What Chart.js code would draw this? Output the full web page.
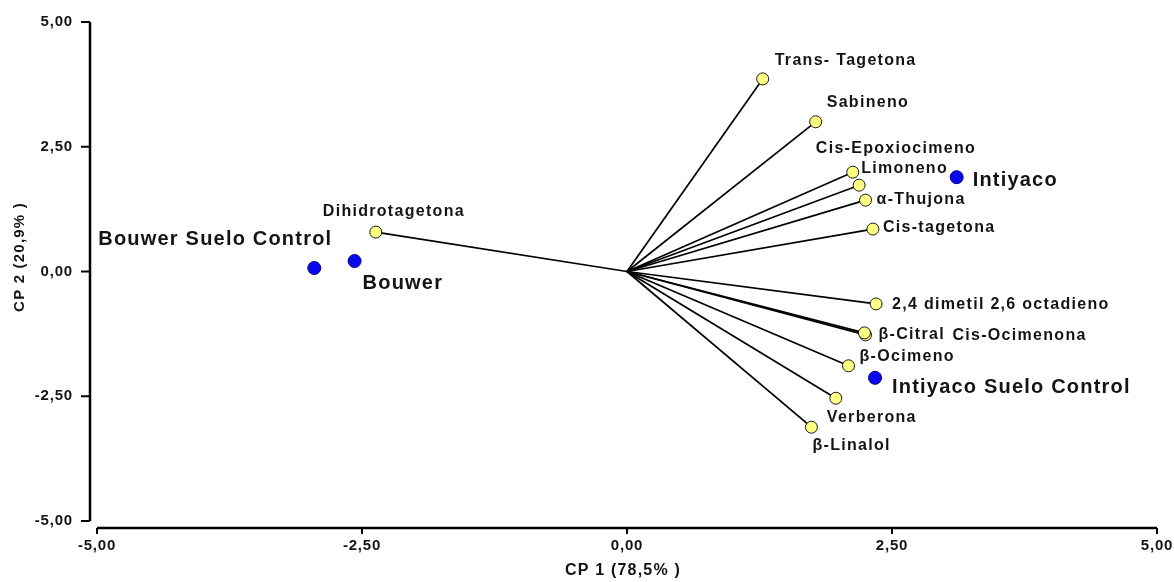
<!DOCTYPE html>
<html>
<head>
<meta charset="utf-8">
<script src="https://cdn.jsdelivr.net/npm/chart.js@4.4.1/dist/chart.umd.min.js"></script>
<style>
  html, body { margin: 0; padding: 0; background: #ffffff; }
  #wrap { width: 1174px; height: 582px; position: relative; }
</style>
</head>
<body>
<div id="wrap"><canvas id="c" width="1174" height="582"></canvas></div>
<script>
// ---- Data ----
const variableNames = ["Trans- Tagetona", "Sabineno", "Cis-Epoxiocimeno", "Limoneno", "α-Thujona", "Cis-tagetona",
  "Dihidrotagetona", "2,4 dimetil 2,6 octadieno", "β-Citral", "Cis-Ocimenona", "β-Ocimeno", "Verberona", "β-Linalol"];
const variableCP1 = [1.28, 1.78, 2.13, 2.19, 2.25, 2.32, -2.37, 2.35, 2.25, 2.24, 2.09, 1.97, 1.74];
const variableCP2 = [3.86, 3.00, 1.99, 1.73, 1.43, 0.85, 0.79, -0.65, -1.27, -1.23, -1.89, -2.54, -3.12];

const siteNames = ["Intiyaco", "Intiyaco Suelo Control", "Bouwer Suelo Control", "Bouwer"];
const siteCP1 = [3.11, 2.34, -2.95, -2.57];
const siteCP2 = [1.89, -2.13, 0.07, 0.21];

const axisTicks = [-5, -2.5, 0, 2.5, 5];
const xTitle = "CP 1 (78,5% )";
const yTitle = "CP 2 (20,9% )";

// ---- Label placement (pixel offsets from each mark, layout only) ----
const variableLabelOffsets = [[12,-18],[11,-19],[-37,-24],[2,-17],[11,-1],[10,-1],[-53,-20],[16,1],[13,0],[88,3],[11,-9],[-9,19],[1,18]];
const siteLabelOffsets = [[16,3],[17,10],[-216,-29],[8,22]];

const FONT = "'Liberation Sans', Arial, Helvetica, sans-serif";
const TEXT = "#141414";

const fmt = v => v.toFixed(2).replace('.', ',');

const vectorDatasets = variableNames.map((n, i) => ({
  type: 'line',
  label: 'vec-' + n,
  data: [{x: 0, y: 0}, {x: variableCP1[i], y: variableCP2[i]}],
  borderColor: '#000000',
  borderWidth: 1.7,
  pointRadius: 0,
  pointHoverRadius: 0,
  fill: false,
  order: 3
}));

const variablePoints = {
  type: 'scatter',
  label: 'variables',
  data: variableNames.map((n, i) => ({x: variableCP1[i], y: variableCP2[i]})),
  backgroundColor: '#ffff84',
  borderColor: '#1a1a1a',
  borderWidth: 1,
  pointRadius: 6,
  order: 2
};

const sitePoints = {
  type: 'scatter',
  label: 'sites',
  data: siteNames.map((n, i) => ({x: siteCP1[i], y: siteCP2[i]})),
  backgroundColor: '#0808ee',
  borderColor: '#00007a',
  borderWidth: 1,
  pointRadius: 6.5,
  order: 1
};

const annotatePlugin = {
  id: 'annotate',
  beforeDraw(chart) {
    chart.ctx.letterSpacing = '0.8px';
  },
  afterDraw(chart) {
    const ctx = chart.ctx;
    const xs = chart.scales.x, ys = chart.scales.y;
    const ca = chart.chartArea;
    ctx.save();
    // Axis lines (offset from the plot area, as in the reference)
    ctx.strokeStyle = '#000';
    ctx.lineWidth = 2.5;
    const yAxisX = ca.left - 7;
    const xAxisY = ca.bottom + 7;
    ctx.beginPath();
    ctx.moveTo(yAxisX, ys.getPixelForValue(5));
    ctx.lineTo(yAxisX, ys.getPixelForValue(-5));
    ctx.stroke();
    ctx.beginPath();
    ctx.moveTo(xs.getPixelForValue(-5), xAxisY);
    ctx.lineTo(xs.getPixelForValue(5), xAxisY);
    ctx.stroke();
    ctx.lineWidth = 2;
    axisTicks.forEach(t => {
      const py = ys.getPixelForValue(t);
      ctx.beginPath(); ctx.moveTo(yAxisX - 9, py); ctx.lineTo(yAxisX, py); ctx.stroke();
      const px = xs.getPixelForValue(t);
      ctx.beginPath(); ctx.moveTo(px, xAxisY); ctx.lineTo(px, xAxisY + 6); ctx.stroke();
    });

    // Axis titles
    ctx.fillStyle = TEXT;
    ctx.font = "bold 16px " + FONT;
    ctx.letterSpacing = '1.2px';
    ctx.textAlign = 'center';
    ctx.textBaseline = 'middle';
    ctx.fillText(xTitle, (ca.left + ca.right) / 2 - 4, 571);
    ctx.save();
    ctx.translate(20, 257);
    ctx.rotate(-Math.PI / 2);
    ctx.font = "bold 15px " + FONT;
    ctx.fillText(yTitle, 0, 0);
    ctx.restore();

    // Point labels
    ctx.textAlign = 'left';
    const vMeta = chart.getDatasetMeta(chart.data.datasets.indexOf(variablePoints));
    ctx.font = "bold 16px " + FONT;
    ctx.letterSpacing = '1.3px';
    vMeta.data.forEach((el, i) => {
      const o = variableLabelOffsets[i];
      ctx.fillText(variableNames[i], el.x + o[0], el.y + o[1]);
    });
    const sMeta = chart.getDatasetMeta(chart.data.datasets.indexOf(sitePoints));
    ctx.font = "bold 20px " + FONT;
    ctx.letterSpacing = '1.2px';
    sMeta.data.forEach((el, i) => {
      const o = siteLabelOffsets[i];
      ctx.fillText(siteNames[i], el.x + o[0], el.y + o[1]);
    });
    ctx.restore();
    ctx.letterSpacing = '0px';
  }
};

new Chart(document.getElementById('c'), {
  type: 'scatter',
  data: { datasets: [sitePoints, variablePoints, ...vectorDatasets] },
  options: {
    responsive: false,
    animation: false,
    events: [],
    layout: { autoPadding: false, padding: { left: 0, right: 17, top: 22, bottom: 0 } },
    plugins: { legend: { display: false }, tooltip: { enabled: false } },
    scales: {
      x: {
        type: 'linear', min: -5, max: 5,
        afterFit: s => { s.height = 61; s.paddingLeft = 0; s.paddingRight = 0; },
        afterBuildTicks: s => { s.ticks = axisTicks.map(v => ({value: v})); },
        grid: { display: false, drawTicks: false },
        border: { display: false },
        ticks: { padding: 16, color: TEXT, font: { family: FONT, size: 15, weight: 'bold' }, callback: v => fmt(v), maxRotation: 0, autoSkip: false }
      },
      y: {
        type: 'linear', min: -5, max: 5,
        afterFit: s => { s.width = 97; s.paddingTop = 0; s.paddingBottom = 0; },
        afterBuildTicks: s => { s.ticks = axisTicks.map(v => ({value: v})); },
        grid: { display: false, drawTicks: false },
        border: { display: false },
        ticks: { padding: 24, color: TEXT, font: { family: FONT, size: 15, weight: 'bold' }, callback: v => fmt(v), autoSkip: false }
      }
    }
  },
  plugins: [annotatePlugin]
});
</script>
</body>
</html>
